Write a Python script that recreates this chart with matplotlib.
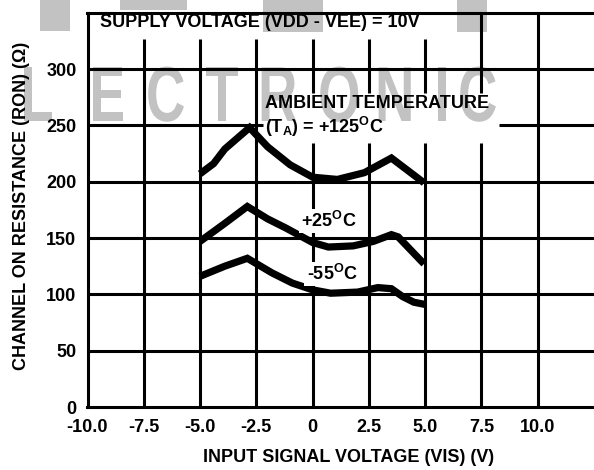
import matplotlib
matplotlib.use('Agg')
import matplotlib.pyplot as plt
from matplotlib.patches import Rectangle, PathPatch
from matplotlib.textpath import TextPath
from matplotlib.font_manager import FontProperties
from matplotlib.transforms import Affine2D

plt.rcParams['font.family'] = ['Liberation Sans', 'DejaVu Sans']
plt.rcParams['font.weight'] = 'bold'
plt.rcParams['mathtext.fontset'] = 'custom'
plt.rcParams['mathtext.rm'] = 'Liberation Sans:bold'
plt.rcParams['mathtext.it'] = 'Liberation Sans:bold'
plt.rcParams['mathtext.bf'] = 'Liberation Sans:bold'

# ---------------- data ----------------
vis_125 = [-5.0, -4.4, -3.9, -2.8, -2.0, -1.0, 0.0, 1.1, 2.3, 3.5, 4.95]
ron_125 = [207, 216, 229, 248, 231, 215, 204, 202, 208, 221, 199]

vis_25 = [-5.0, -3.9, -2.9, -2.0, -1.2, 0.0, 0.7, 1.8, 2.7, 3.5, 3.8, 4.95]
ron_25 = [147, 163, 178, 167, 159, 146, 142, 143, 147, 153, 151, 127]

vis_m55 = [-5.0, -3.9, -2.9, -1.8, -0.9, 0.0, 0.8, 2.0, 2.9, 3.5, 4.0, 4.5, 5.0]
ron_m55 = [116, 125, 132, 119, 110, 104, 101, 102, 106, 105, 98, 93, 91]

x_ticks = [-10.0, -7.5, -5.0, -2.5, 0.0, 2.5, 5.0, 7.5, 10.0]
x_tick_labels = ['-10.0', '-7.5', '-5.0', '-2.5', '0', '2.5', '5.0', '7.5', '10.0']
y_ticks = [0, 50, 100, 150, 200, 250, 300]
y_tick_labels = ['0', '50', '100', '150', '200', '250', '300']

title_text = 'SUPPLY VOLTAGE (VDD - VEE) = 10V'
amb_line1 = 'AMBIENT TEMPERATURE'
amb_line2 = '(T$_{\\rm A}$) = +125$^{\\rm O}$C'
label_25 = '+25$^{\\rm O}$C'
label_m55 = '-55$^{\\rm O}$C'
x_label = 'INPUT SIGNAL VOLTAGE (VIS) (V)'
y_label = 'CHANNEL ON RESISTANCE (RON) (\u03a9)'
watermark = 'LECTRONIC'

# ---------------- layout ----------------
W, H = 594, 470
fig = plt.figure(figsize=(W / 100, H / 100), dpi=100)
ax = fig.add_axes([87.5 / W, 63 / H, (W - 87.5) / W, 394.3 / H])
XMIN, XMAX, YMIN, YMAX = -10, 12.5, 0, 350
ax.set_xlim(XMIN, XMAX)
ax.set_ylim(YMIN, YMAX)

LW = 2.2
for s in ['left', 'bottom', 'top']:
    ax.spines[s].set_linewidth(LW)
    ax.spines[s].set_color('black')
ax.spines['right'].set_visible(False)

ax.set_xticks(x_ticks)
ax.set_xticklabels(x_tick_labels)
ax.set_yticks(y_ticks)
ax.set_yticklabels(y_tick_labels)
ax.tick_params(axis='both', length=0, labelsize=13)
ax.tick_params(axis='x', pad=9)
ax.tick_params(axis='y', pad=8)

# white areas (text boxes) where grid lines are interrupted
boxes = [(-10.0, 5.05, 327, 350), (-2.2, 8.3, 234, 279)]


def segs(lo, hi, gaps):
    out = []
    cur = lo
    for g0, g1 in sorted(gaps):
        if g0 > cur:
            out.append((cur, g0))
        cur = max(cur, g1)
    if cur < hi:
        out.append((cur, hi))
    return out


for xv in x_ticks[1:]:
    gaps = [(b[2], b[3]) for b in boxes if b[0] < xv < b[1]]
    for a, b in segs(YMIN, YMAX, gaps):
        ax.vlines(xv, a, b, color='black', lw=LW, zorder=2)
for yv in y_ticks[1:]:
    gaps = [(b[0], b[1]) for b in boxes if b[2] < yv < b[3]]
    for a, b in segs(XMIN, XMAX, gaps):
        ax.hlines(yv, a, b, color='black', lw=LW, zorder=2)

# watermark (light gray, condensed letters, behind everything)
wm_col = '#c2c2c2'
fp = FontProperties(family='Liberation Sans', weight='bold')
for ch, px in zip(watermark, [20, 89, 146, 205, 258, 318, 375, 434, 458]):
    tp = TextPath((0, 0), ch, size=78, prop=fp)
    tr = Affine2D().scale(0.7, 1.0).translate(px, H - 121).scale(1 / 100) + fig.dpi_scale_trans
    ax.add_artist(PathPatch(tp, transform=tr, facecolor=wm_col, edgecolor='none',
                            zorder=0.5, clip_on=False))
for (rx, ry, rw, rh) in [(40, 0, 30, 31), (120, 0, 67, 10), (263, 0, 60, 32), (457, 0, 30, 32)]:
    ax.add_artist(Rectangle((rx / W, 1 - (ry + rh) / H), rw / W, rh / H, transform=fig.transFigure,
                            facecolor=wm_col, edgecolor='none', zorder=0.5, clip_on=False))

# curves
for xs, ys in [(vis_125, ron_125), (vis_25, ron_25), (vis_m55, ron_m55)]:
    ax.plot(xs, ys, color='black', lw=5.2, solid_joinstyle='miter', solid_capstyle='butt', zorder=4)

# texts
ax.text(-9.45, 341.5, title_text, ha='left', va='center', fontsize=13, zorder=5)
ax.text(-2.1, 269, amb_line1, ha='left', va='center', fontsize=13, zorder=5)
ax.text(-2.1, 248.5, amb_line2, ha='left', va='center', fontsize=13, zorder=5)
bb = dict(facecolor='white', edgecolor='none', pad=1.5)
ax.text(-0.5, 165, label_25, ha='left', va='center', fontsize=13, zorder=5, bbox=bb)
ax.text(-0.27, 118, label_m55, ha='left', va='center', fontsize=13, zorder=5, bbox=bb)

fig.text(349 / W, 1 - 458 / H, x_label, ha='center', va='center', fontsize=13)
fig.text(22 / W, 1 - 206 / H, y_label, ha='center', va='center', rotation=90, fontsize=13)

fig.savefig('out.png', dpi=100)
